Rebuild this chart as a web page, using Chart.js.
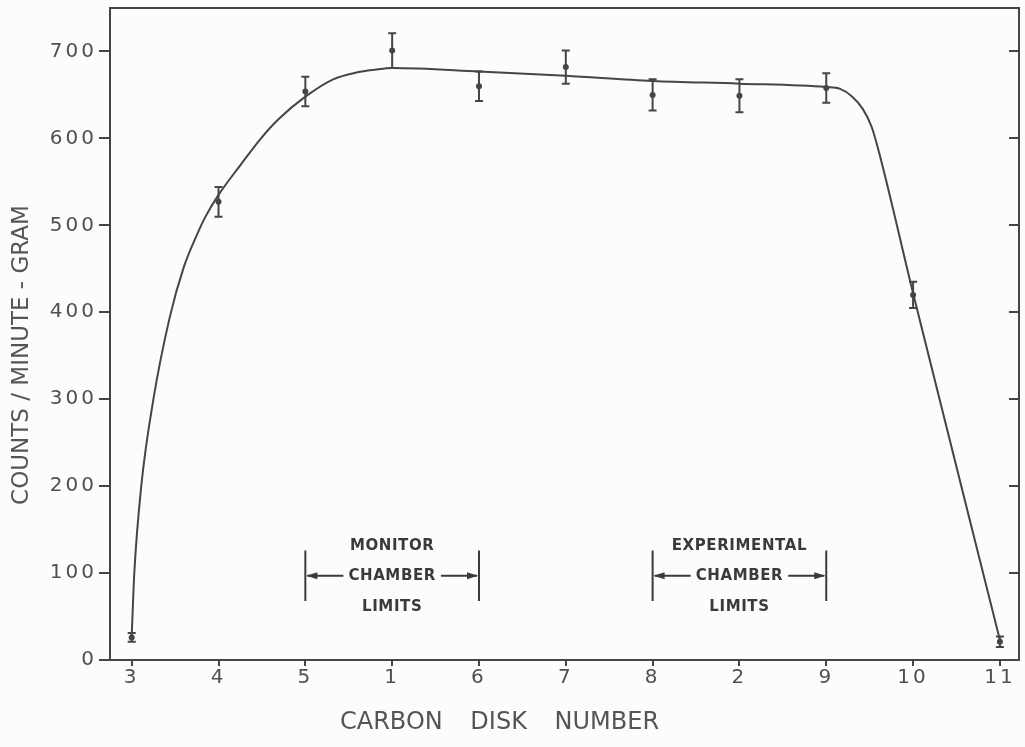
<!DOCTYPE html>
<html>
<head>
<meta charset="utf-8">
<title>Counts per minute-gram by carbon disk</title>
<script src="https://cdn.jsdelivr.net/npm/chart.js@4.4.1/dist/chart.umd.min.js"></script>
<style>
  html, body { margin: 0; padding: 0; background: #fbfcfc; }
  #wrap { width: 1025px; height: 747px; position: relative; }
</style>
</head>
<body>
<div id="wrap"><canvas id="c" width="1025" height="747"></canvas></div>
<script>
// Carbon disks in stacking order, left to right
const categories = ['3', '4', '5', '1', '6', '7', '8', '2', '9', '10', '11'];
// Measured activity per disk (counts / minute-gram) and its uncertainty
const counts = [26, 527, 654, 701, 660, 682, 650, 649, 658, 420, 21];
const errors = [5, 17, 17, 20, 17, 19, 18, 19, 17, 15, 6];
// Hand-fitted curve through the measurements (disk position, counts)
const curvePosition = [0, 0.03, 0.11, 0.25, 0.44, 0.6, 0.755, 0.85, 1.0, 1.25, 1.48, 1.69, 2.0, 2.32, 2.6, 2.8, 3.0, 4, 5, 6, 7, 8, 8.16, 8.3, 8.42, 8.52, 8.6, 9, 10];
const curveCounts   = [28, 100, 200, 300, 395, 452, 490, 510, 535, 569, 599, 622, 648, 668, 676, 679, 681, 677, 672, 666, 663, 659, 657, 648, 634, 614, 587, 422, 23];
// Axis ticks
const yTicks = [0, 100, 200, 300, 400, 500, 600, 700];
// Chamber limit brackets (disk positions) and their labels
const monitorSpan = [2, 4];
const monitorLines = ['MONITOR', 'CHAMBER', 'LIMITS'];
const experimentalSpan = [6, 8];
const experimentalLines = ['EXPERIMENTAL', 'CHAMBER', 'LIMITS'];

const INK = '#454545';
const FONT = '"DejaVu Sans", "Liberation Sans", sans-serif';

const paperPlugin = {
  id: 'paper',
  beforeDraw(chart) {
    const ctx = chart.ctx;
    ctx.save();
    ctx.fillStyle = '#fbfcfc';
    ctx.fillRect(0, 0, chart.width, chart.height);
    ctx.restore();
    // spaced lettering for the tick numbers
    ctx.letterSpacing = '3px';
  },
  beforeDatasetsDraw(chart) {
    chart.ctx.letterSpacing = '0px';
  }
};

const framePlugin = {
  id: 'frame',
  afterDraw(chart) {
    const ctx = chart.ctx;
    const a = chart.chartArea;
    const y = chart.scales.y;
    ctx.save();
    ctx.strokeStyle = INK;
    ctx.lineWidth = 2;
    ctx.beginPath();
    ctx.moveTo(a.left, a.top);
    ctx.lineTo(a.right, a.top);
    ctx.lineTo(a.right, a.bottom);
    ctx.stroke();
    // inward ticks on the right side
    ctx.beginPath();
    yTicks.forEach(v => {
      const py = Math.round(y.getPixelForValue(v));
      ctx.moveTo(a.right, py);
      ctx.lineTo(a.right - 10, py);
    });
    ctx.stroke();
    ctx.restore();
  }
};

const errorBarPlugin = {
  id: 'errorBars',
  afterDatasetsDraw(chart) {
    const ctx = chart.ctx;
    const xs = chart.scales.x, ys = chart.scales.y;
    ctx.save();
    ctx.strokeStyle = INK;
    ctx.lineWidth = 2;
    counts.forEach((v, i) => {
      const px = xs.getPixelForValue(i);
      const top = ys.getPixelForValue(v + errors[i]);
      const bot = ys.getPixelForValue(v - errors[i]);
      ctx.beginPath();
      ctx.moveTo(px, top); ctx.lineTo(px, bot);
      ctx.moveTo(px - 4, top); ctx.lineTo(px + 4, top);
      ctx.moveTo(px - 4, bot); ctx.lineTo(px + 4, bot);
      ctx.stroke();
    });
    ctx.restore();
  }
};

function drawArrowHead(ctx, x, y, dir) {
  ctx.beginPath();
  ctx.moveTo(x, y);
  ctx.lineTo(x - dir * 11, y - 3.5);
  ctx.lineTo(x - dir * 11, y + 3.5);
  ctx.closePath();
  ctx.fill();
}

function drawLimits(chart, span, lines) {
  const ctx = chart.ctx;
  const xs = chart.scales.x, ys = chart.scales.y;
  const x0 = xs.getPixelForValue(span[0]);
  const x1 = xs.getPixelForValue(span[1]);
  const xm = (x0 + x1) / 2;
  const yTop = ys.getPixelForValue(126);
  const yBot = ys.getPixelForValue(68);
  const yMid = ys.getPixelForValue(97);
  ctx.save();
  ctx.strokeStyle = '#3a3a3a';
  ctx.fillStyle = '#3a3a3a';
  ctx.lineWidth = 2;
  ctx.beginPath();
  ctx.moveTo(x0, yTop); ctx.lineTo(x0, yBot);
  ctx.moveTo(x1, yTop); ctx.lineTo(x1, yBot);
  ctx.stroke();
  ctx.font = 'bold 15px ' + FONT;
  ctx.textAlign = 'center';
  ctx.textBaseline = 'middle';
  ctx.letterSpacing = '0.6px';
  const mid = lines[1];
  const w = ctx.measureText(mid).width;
  const gap = 5;
  ctx.fillText(lines[0], xm, ys.getPixelForValue(131));
  ctx.fillText(mid, xm, yMid);
  ctx.fillText(lines[2], xm, ys.getPixelForValue(61));
  ctx.beginPath();
  ctx.moveTo(xm - w / 2 - gap, yMid); ctx.lineTo(x0 + 2, yMid);
  ctx.moveTo(xm + w / 2 + gap, yMid); ctx.lineTo(x1 - 2, yMid);
  ctx.stroke();
  drawArrowHead(ctx, x0 + 1, yMid, -1);
  drawArrowHead(ctx, x1 - 1, yMid, 1);
  ctx.restore();
}

const limitsPlugin = {
  id: 'limits',
  afterDatasetsDraw(chart) {
    drawLimits(chart, monitorSpan, monitorLines);
    drawLimits(chart, experimentalSpan, experimentalLines);
  }
};

const titlesPlugin = {
  id: 'titles',
  afterDraw(chart) {
    const ctx = chart.ctx;
    ctx.save();
    ctx.fillStyle = '#555';
    ctx.textBaseline = 'middle';
    ctx.textAlign = 'left';
    ctx.font = '24px ' + FONT;
    ctx.letterSpacing = '0px';
    ctx.wordSpacing = '20px';
    ctx.fillText('CARBON DISK NUMBER', 340, 723);
    ctx.wordSpacing = '0px';
    ctx.font = '23px ' + FONT;
    ctx.translate(22, 355);
    ctx.rotate(-Math.PI / 2);
    ctx.textAlign = 'center';
    ctx.fillText('COUNTS / MINUTE - GRAM', 0, 0);
    ctx.restore();
  }
};

const curve = curvePosition.map((x, i) => ({ x: x, y: curveCounts[i] }));
const points = counts.map((v, i) => ({ x: i, y: v }));

new Chart(document.getElementById('c'), {
  type: 'scatter',
  data: {
    datasets: [
      {
        label: 'fit',
        data: curve,
        showLine: true,
        borderColor: INK,
        borderWidth: 2,
        pointRadius: 0,
        cubicInterpolationMode: 'monotone',
        fill: false
      },
      {
        label: 'counts',
        data: points,
        pointRadius: 3,
        pointBackgroundColor: INK,
        pointBorderColor: INK,
        pointBorderWidth: 0
      }
    ]
  },
  options: {
    responsive: false,
    animation: false,
    events: [],
    layout: { padding: { top: 8, right: 6, left: 0, bottom: 0 } },
    plugins: { legend: { display: false }, tooltip: { enabled: false } },
    scales: {
      x: {
        type: 'linear',
        min: -0.25,
        max: 10.22,
        afterBuildTicks(s) { s.ticks = categories.map((c, i) => ({ value: i })); },
        afterFit(s) { s.height = 87; s.paddingLeft = 0; s.paddingRight = 0; },
        ticks: {
          callback: v => categories[v],
          color: '#505050',
          font: { family: FONT, size: 20 },
          padding: 0,
          maxRotation: 0,
          autoSkip: false
        },
        grid: { display: true, drawOnChartArea: false, drawTicks: true, tickLength: 6, color: INK, lineWidth: 2 },
        border: { display: true, color: INK, width: 2 }
      },
      y: {
        min: 0,
        max: 750,
        afterBuildTicks(s) { s.ticks = yTicks.map(v => ({ value: v })); },
        afterFit(s) { s.width = 110; s.paddingTop = 0; s.paddingBottom = 0; },
        ticks: {
          callback: v => String(v),
          color: '#505050',
          font: { family: FONT, size: 20 },
          padding: 2
        },
        grid: { display: true, drawOnChartArea: false, drawTicks: true, tickLength: 11, color: INK, lineWidth: 2 },
        border: { display: true, color: INK, width: 2 }
      }
    }
  },
  plugins: [paperPlugin, errorBarPlugin, limitsPlugin, framePlugin, titlesPlugin]
});
</script>
</body>
</html>
